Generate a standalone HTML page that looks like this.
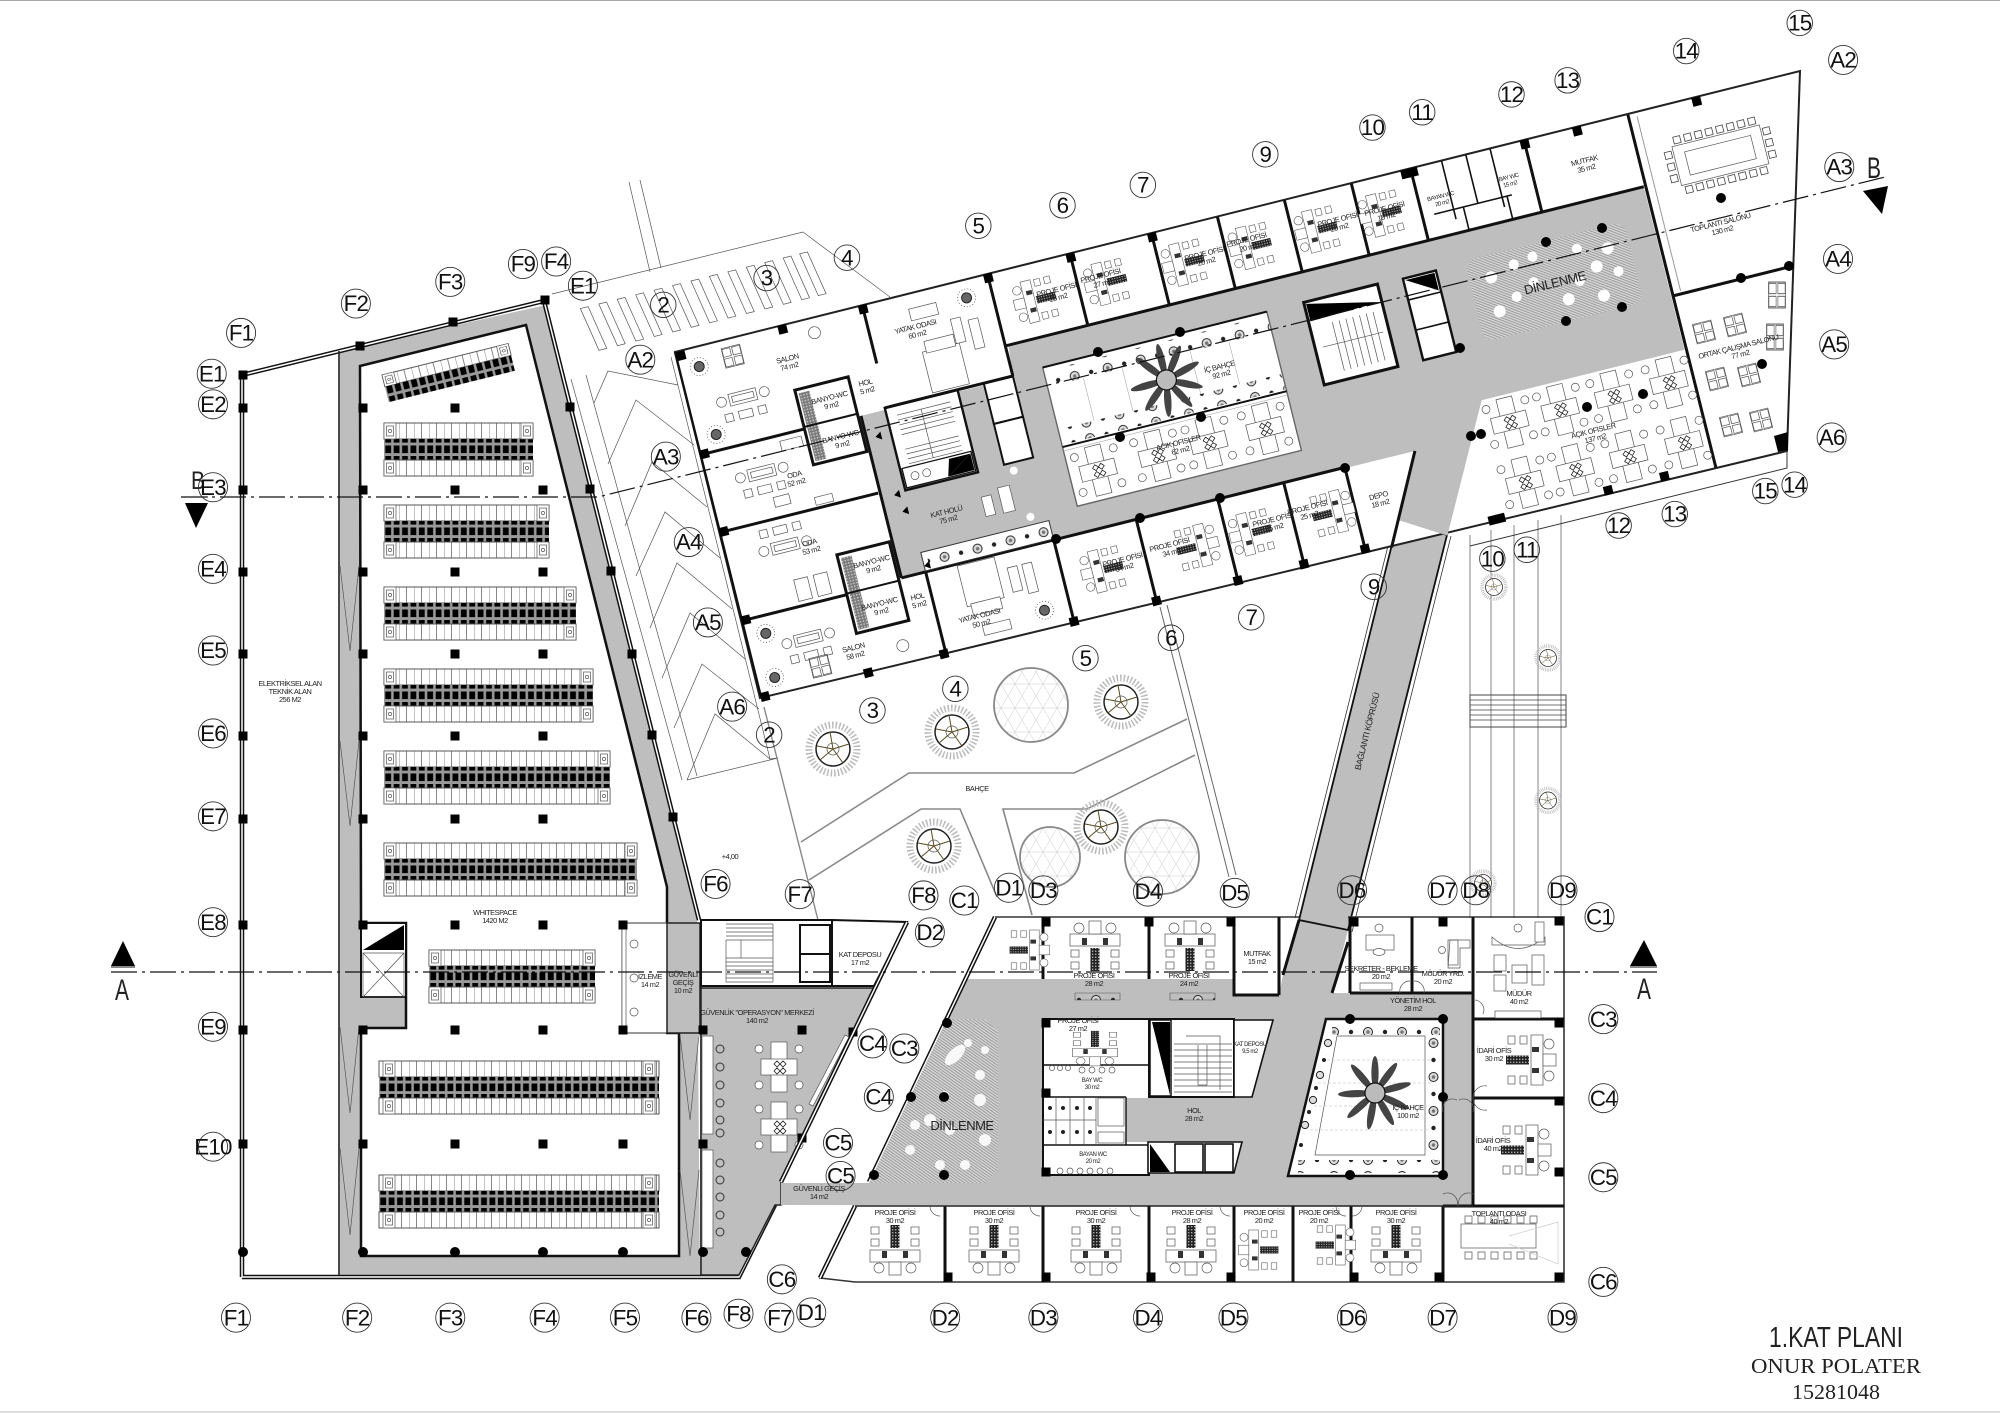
<!DOCTYPE html>
<html lang="tr"><head><meta charset="utf-8"><title>1.KAT PLANI</title>
<style>
html,body{margin:0;padding:0;background:#fff}
svg{display:block}
text{font-family:"Liberation Sans",sans-serif;fill:#222}
.t{font-size:7.4px;letter-spacing:-.45px;text-anchor:middle}
.bb circle{fill:none;stroke:#333;stroke-width:.7}
.bb text{font-size:17.5px;letter-spacing:-.6px;text-anchor:middle;fill:#111}
.w{fill:none;stroke:#111;stroke-width:3}
.f{fill:#fff;stroke:#555;stroke-width:.7}
.n{fill:none;stroke:#555;stroke-width:.7}
</style></head><body>
<svg xmlns="http://www.w3.org/2000/svg" width="2000" height="1413" viewBox="0 0 2000 1413">
<defs>
<pattern id="rk" patternUnits="userSpaceOnUse" width="8.4" height="10.5"><rect width="8.4" height="10.5" fill="#999"/><rect x="1.3" y="1.5" width="5.8" height="7.6" fill="#000"/></pattern>
<pattern id="cell" patternUnits="userSpaceOnUse" width="15" height="16"><rect width="15" height="16" fill="#fff"/><path d="M0 0V16M7.5 0V16" stroke="#555" stroke-width=".7"/></pattern>
<pattern id="hat" patternUnits="userSpaceOnUse" width="2.4" height="2.4" patternTransform="rotate(35)"><rect width="2.4" height="2.4" fill="#d6d6d6"/><rect width="2.4" height="1" fill="#9a9a9a"/></pattern>
<pattern id="pl" patternUnits="userSpaceOnUse" width="34" height="16" x="0" y="0"><circle cx="8" cy="8" r="4.5" fill="#ddd" stroke="#222" stroke-width="1"/><circle cx="8" cy="8" r="1.8" fill="#777"/><circle cx="25" cy="8" r="2.2" fill="#222"/></pattern>
<pattern id="plv" patternUnits="userSpaceOnUse" width="13" height="34" x="1427" y="1035"><circle cx="6.5" cy="8" r="4.5" fill="#ddd" stroke="#222" stroke-width="1"/><circle cx="6.5" cy="8" r="1.8" fill="#777"/><circle cx="6.5" cy="25" r="2.2" fill="#222"/></pattern>
<pattern id="tri" patternUnits="userSpaceOnUse" width="14" height="24"><path d="M0 0L14 24M14 0L0 24M0 12H14" stroke="#ccc" stroke-width=".5" fill="none"/></pattern>
<pattern id="ds" patternUnits="userSpaceOnUse" width="3" height="3"><rect width="3" height="3" fill="#222"/><rect width="1.4" height="1.4" fill="#aaa"/></pattern>
<g id="rkE"><rect width="12" height="16" class="f" stroke-width="1"/><rect x="2.5" y="3" width="7" height="10" class="f"/><circle cx="6" cy="8" r="1.6" class="n"/></g>
<g id="po"><rect x="-4.5" y="-13" width="9" height="23" fill="url(#ds)"/>
<rect x="-24" y="-11" width="8" height="7" class="f"/><rect x="-24" y="1" width="8" height="7" class="f"/><rect x="16" y="-11" width="8" height="7" class="f"/><rect x="16" y="1" width="8" height="7" class="f"/>
<rect x="-25" y="12" width="50" height="12" class="f"/><rect x="-6" y="24" width="12" height="13" class="f"/>
<circle cx="-16" cy="30" r="5" class="f"/><circle cx="16" cy="30" r="5" class="f"/><rect x="-13" y="13" width="5" height="7" fill="#333"/><rect x="8" y="13" width="5" height="7" fill="#333"/></g>
<g id="oc"><rect x="-8" y="-25" width="16" height="50" class="f"/><rect x="-18" y="-8" width="36" height="16" class="f"/>
<circle cx="-20" cy="-18" r="4" class="f" stroke-width="1.2"/><circle cx="20" cy="-18" r="4" class="f" stroke-width="1.2"/><circle cx="-20" cy="18" r="4" class="f" stroke-width="1.2"/><circle cx="20" cy="18" r="4" class="f" stroke-width="1.2"/>
<path d="M-5 -3l3-3 3 3-3 3zM1 -3l3-3 3 3-3 3zM-5 4l3-3 3 3-3 3zM1 4l3-3 3 3-3 3z" fill="#fff" stroke="#222" stroke-width=".8"/></g>
<g id="tb"><rect x="-9" y="-9" width="8" height="8" class="f"/><rect x="1" y="-9" width="8" height="8" class="f"/><rect x="-9" y="1" width="8" height="8" class="f"/><rect x="1" y="1" width="8" height="8" class="f"/><rect x="-9.5" y="-10" width="19" height="20" class="n"/></g>
<g id="sf"><rect x="-14" y="-6" width="28" height="12" class="f"/><rect x="-11" y="-3" width="22" height="6" class="n"/><rect x="-22" y="13" width="8" height="8" class="f"/><rect x="-8" y="13" width="14" height="8" class="f"/><rect x="12" y="13" width="8" height="8" class="f"/><circle cx="-22" cy="0" r="5" class="n"/><circle cx="22" cy="0" r="5" class="n"/></g>
<g id="tr"><circle r="24" fill="none" stroke="#bbb" stroke-width="7" stroke-dasharray="1.5 2"/><circle r="17" fill="#fff" stroke="#222" stroke-width="1.5"/><circle r="6" class="n"/><path d="M0 0L-3 -17M0 0L16 -5M0 0L10 14M0 0L-13 11M0 0L-16 -3" stroke="#5a4a20" stroke-width="1"/></g>
<g id="palm"><g fill="#444"><ellipse cx="0" cy="-20" rx="3.6" ry="17"/><ellipse cx="0" cy="-20" rx="3.6" ry="17" transform="rotate(36)"/><ellipse cx="0" cy="-20" rx="3.6" ry="17" transform="rotate(75)"/><ellipse cx="0" cy="-20" rx="3.6" ry="17" transform="rotate(115)"/><ellipse cx="0" cy="-20" rx="3.6" ry="17" transform="rotate(150)"/><ellipse cx="0" cy="-20" rx="3.6" ry="17" transform="rotate(190)"/><ellipse cx="0" cy="-20" rx="3.6" ry="17" transform="rotate(228)"/><ellipse cx="0" cy="-20" rx="3.6" ry="17" transform="rotate(268)"/><ellipse cx="0" cy="-20" rx="3.6" ry="17" transform="rotate(320)"/></g><circle r="10" fill="#bbb" stroke="#111" stroke-width="1.2"/></g>
<g id="sun"><circle r="9" fill="none" stroke="#555" stroke-width=".8" stroke-dasharray="1 2"/><circle r="5" fill="#666" stroke="#222"/></g>
<polygon id="slat" points="0,21 8,21 16,66 8,66" fill="#fff" stroke="#555" stroke-width=".7"/>
<rect id="sq" x="-4.5" y="-4.5" width="9" height="9" fill="#000"/>
<circle id="ci" r="5" fill="#000"/>
</defs>
<rect width="2000" height="1413" fill="#fff"/>
<rect width="2000" height="1" fill="#aaa"/><rect y="1411" width="2000" height="2" fill="#ddd"/>

<!-- parking slats and landscape -->
<g transform="translate(552 294) rotate(-14)"><use href="#slat" x="24"/><use href="#slat" x="43"/><use href="#slat" x="62"/><use href="#slat" x="81"/><use href="#slat" x="100"/><use href="#slat" x="119"/><use href="#slat" x="138"/><use href="#slat" x="157"/><use href="#slat" x="176"/><use href="#slat" x="195"/><use href="#slat" x="214"/><use href="#slat" x="233"/><use href="#slat" x="250"/></g>
<g class="n"><path d="M552 294L803 232L890 297M629 182L650 272M640 180L661 268M571 379L682 780M586 375L697 776M671 357L770 759"/>
<path d="M594 403L608 371L678 385M608 464L636 400L694 445M625 526L652 462L707 507M636 576L665 512L720 558M650 628L677 563L732 609M662 678L690 613L745 659M674 728L702 664L759 709M687 780L715 714L770 759L778 758L687 780"/></g>
<g fill="none" stroke="#888" stroke-width="1.6"><path d="M801 842L909 773H1074L1187 719M809 880L921 809H960L997 897M1195 755L1087 809H1003L1032 915"/><path d="M764 707L818 920" stroke-width="1.4"/></g>
<path d="M1160 607L1229 877M1167 605L1236 875" stroke="#666" stroke-width="1" fill="none"/>
<circle cx="1031" cy="705" r="37" fill="url(#tri)" stroke="#888" stroke-width="1.8"/><circle cx="1050" cy="857" r="30" fill="url(#tri)" stroke="#888" stroke-width="1.8"/><circle cx="1162" cy="857" r="37" fill="url(#tri)" stroke="#888" stroke-width="1.8"/>
<use href="#tr" x="833" y="749"/><use href="#tr" x="952" y="732"/><use href="#tr" x="1121" y="702"/><use href="#tr" x="1101" y="827"/><use href="#tr" x="934" y="846"/>
<path d="M1470 535V918M1491 530V918M1514 525V918M1538 520V918M1561 515V918" stroke="#666" stroke-width=".8" fill="none"/>
<rect x="1470" y="695" width="96" height="32" fill="none" stroke="#444"/><path d="M1470 700H1566M1470 705H1566M1470 710H1566M1470 715H1566M1470 720H1566" stroke="#444" stroke-width=".7"/>
<use href="#tr" x="1494" y="587" transform="translate(747 293.5) scale(.5)"/><use href="#tr" x="1548" y="658" transform="translate(774 329) scale(.5)"/><use href="#tr" x="1548" y="801" transform="translate(774 400) scale(.5)"/><use href="#tr" x="1483" y="883" transform="translate(741.5 441.5) scale(.5)"/>

<!-- data hall -->
<polygon points="338,351 359,347 546,305 697,920 700,1275 338,1275" fill="#bebebe"/>
<polygon points="360,366 526,325 667,887 667,1033 679,1033 679,1256 361,1256 361,1028 406,1028 406,923 361,923" fill="#fff" stroke="#111" stroke-width="2.5"/>
<path d="M242 1277V375L544 301L699 920M242 1277H739L775 1205" fill="none" stroke="#111" stroke-width="4.5"/>
<path d="M242 1277V375L544 301L699 920M242 1277H739L775 1205" fill="none" stroke="#fff" stroke-width="1.5"/>
<path d="M339 351V1275M701 920V1275" stroke="#222" stroke-width="1.5"/>
<path d="M340 566L350 651L359 566M340 741L350 826L359 741M340 1027L350 1113L359 1027M340 1148L350 1235L359 1148M680 1035L690 1120L699 1035M680 1170L690 1256L699 1170" class="n"/>
<rect x="361" y="923" width="45" height="74" fill="#fff" stroke="#111" stroke-width="2"/><polygon points="363,950 404,925 404,950" fill="#000"/><path d="M363 953H404V997H363ZM363 953L404 997M404 953L363 997" class="n"/>
<rect x="622" y="923" width="45" height="110" fill="#fff" stroke="#333" stroke-width="1"/><rect x="622" y="925" width="4" height="106" class="f"/><circle cx="634" cy="944" r="4" class="f"/><circle cx="634" cy="978" r="4" class="f"/><circle cx="634" cy="1012" r="4" class="f"/>
<rect x="667" y="923" width="33" height="110" fill="#bebebe" stroke="#222" stroke-width="1.5"/>

<g transform="translate(382 375) rotate(-14)"><rect width="130" height="12" fill="url(#cell)" stroke="#555"/><rect y="12" width="130" height="16" fill="url(#rk)"/><use href="#rkE" transform="scale(1 .75)"/><use href="#rkE" x="118" transform="scale(1 .75)"/></g>
<g transform="translate(384 423)"><rect width="149" height="16" fill="url(#cell)" stroke="#555"/><rect y="16" width="149" height="21" fill="url(#rk)"/><rect y="37" width="149" height="16" fill="url(#cell)" stroke="#555"/><use href="#rkE"/><use href="#rkE" y="37"/><use href="#rkE" x="137"/><use href="#rkE" x="137" y="37"/></g>
<g transform="translate(384 505)"><rect width="165" height="16" fill="url(#cell)" stroke="#555"/><rect y="16" width="165" height="21" fill="url(#rk)"/><rect y="37" width="165" height="16" fill="url(#cell)" stroke="#555"/><use href="#rkE"/><use href="#rkE" y="37"/><use href="#rkE" x="153"/><use href="#rkE" x="153" y="37"/></g>
<g transform="translate(384 587)"><rect width="192" height="16" fill="url(#cell)" stroke="#555"/><rect y="16" width="192" height="21" fill="url(#rk)"/><rect y="37" width="192" height="16" fill="url(#cell)" stroke="#555"/><use href="#rkE"/><use href="#rkE" y="37"/><use href="#rkE" x="180"/><use href="#rkE" x="180" y="37"/></g>
<g transform="translate(384 669)"><rect width="209" height="16" fill="url(#cell)" stroke="#555"/><rect y="16" width="209" height="21" fill="url(#rk)"/><rect y="37" width="209" height="16" fill="url(#cell)" stroke="#555"/><use href="#rkE"/><use href="#rkE" y="37"/><use href="#rkE" x="197"/><use href="#rkE" x="197" y="37"/></g>
<g transform="translate(384 751)"><rect width="226" height="16" fill="url(#cell)" stroke="#555"/><rect y="16" width="226" height="21" fill="url(#rk)"/><rect y="37" width="226" height="16" fill="url(#cell)" stroke="#555"/><use href="#rkE"/><use href="#rkE" y="37"/><use href="#rkE" x="214"/><use href="#rkE" x="214" y="37"/></g>
<g transform="translate(384 843)"><rect width="253" height="16" fill="url(#cell)" stroke="#555"/><rect y="16" width="253" height="21" fill="url(#rk)"/><rect y="37" width="253" height="16" fill="url(#cell)" stroke="#555"/><use href="#rkE"/><use href="#rkE" y="37"/><use href="#rkE" x="241"/><use href="#rkE" x="241" y="37"/></g>
<g transform="translate(429 950)"><rect width="166" height="16" fill="url(#cell)" stroke="#555"/><rect y="16" width="166" height="21" fill="url(#rk)"/><rect y="37" width="166" height="16" fill="url(#cell)" stroke="#555"/><use href="#rkE"/><use href="#rkE" y="37"/><use href="#rkE" x="154"/><use href="#rkE" x="154" y="37"/></g>
<g transform="translate(379 1061)"><rect width="280" height="16" fill="url(#cell)" stroke="#555"/><rect y="16" width="280" height="21" fill="url(#rk)"/><rect y="37" width="280" height="16" fill="url(#cell)" stroke="#555"/><use href="#rkE" x="4"/><use href="#rkE" x="4" y="37"/><use href="#rkE" x="264"/><use href="#rkE" x="264" y="37"/></g>
<g transform="translate(379 1175)"><rect width="280" height="16" fill="url(#cell)" stroke="#555"/><rect y="16" width="280" height="21" fill="url(#rk)"/><rect y="37" width="280" height="16" fill="url(#cell)" stroke="#555"/><use href="#rkE" x="4"/><use href="#rkE" x="4" y="37"/><use href="#rkE" x="264"/><use href="#rkE" x="264" y="37"/></g>
<!-- data hall columns -->
<g><use href="#sq" x="243" y="375"/><use href="#sq" x="360" y="346"/><use href="#sq" x="453" y="322"/><use href="#sq" x="545" y="300"/>
<use href="#sq" x="243" y="408"/><use href="#sq" x="243" y="490"/><use href="#sq" x="243" y="572"/><use href="#sq" x="243" y="654"/><use href="#sq" x="243" y="736"/><use href="#sq" x="243" y="819"/><use href="#sq" x="243" y="925"/><use href="#sq" x="243" y="1030"/><use href="#sq" x="243" y="1144"/><use href="#ci" x="243" y="1252"/>
<use href="#sq" x="363" y="408"/><use href="#sq" x="363" y="490"/><use href="#sq" x="363" y="572"/><use href="#sq" x="363" y="654"/><use href="#sq" x="363" y="736"/><use href="#sq" x="363" y="819"/><use href="#sq" x="363" y="925"/><use href="#sq" x="363" y="1030"/><use href="#sq" x="363" y="1144"/><use href="#ci" x="363" y="1252"/>
<use href="#sq" x="455" y="408"/><use href="#sq" x="455" y="490"/><use href="#sq" x="455" y="572"/><use href="#sq" x="455" y="654"/><use href="#sq" x="455" y="736"/><use href="#sq" x="455" y="819"/><use href="#sq" x="455" y="925"/><use href="#sq" x="455" y="1030"/><use href="#sq" x="455" y="1144"/><use href="#ci" x="455" y="1252"/>
<use href="#sq" x="543" y="490"/><use href="#sq" x="543" y="572"/><use href="#sq" x="543" y="654"/><use href="#sq" x="543" y="736"/><use href="#sq" x="543" y="819"/><use href="#sq" x="543" y="925"/><use href="#sq" x="543" y="1030"/><use href="#sq" x="543" y="1144"/><use href="#ci" x="543" y="1252"/>
<use href="#sq" x="623" y="925"/><use href="#sq" x="623" y="1030"/><use href="#sq" x="623" y="1144"/><use href="#ci" x="623" y="1252"/>
<use href="#sq" x="570" y="407"/><use href="#sq" x="590" y="489"/><use href="#sq" x="611" y="571"/><use href="#sq" x="632" y="654"/><use href="#sq" x="652" y="735"/><use href="#sq" x="673" y="817"/></g>

<!-- security centre + stair block -->
<polygon points="701,988 875,988 781,1182 781,1205 775,1205 739,1275 701,1275" fill="#bebebe" stroke="#222" stroke-width="1.5"/>
<rect x="701" y="920" width="131" height="66" fill="#fff" stroke="#111" stroke-width="2"/>
<path d="M726 924H773M726 928H773M726 932H773M726 936H773M726 940H773M726 958H773M726 962H773M726 966H773M726 970H773M726 974H773M726 978H773M726 982H773M741 940V958M726 940V982M773 924V982" class="n"/>
<rect x="800" y="925" width="30" height="29" fill="#fff" stroke="#111" stroke-width="2"/><rect x="800" y="954" width="30" height="28" fill="#fff" stroke="#111" stroke-width="2"/>
<polygon points="832,920 907,922 874,986 832,986" fill="#fff" stroke="#111" stroke-width="2"/>
<g fill="#fff" stroke="#555" stroke-width=".7"><rect x="702" y="1036" width="11" height="98"/><rect x="702" y="1150" width="11" height="98"/><g fill="none" stroke="#333" stroke-width="1"><circle cx="720" cy="1049" r="4"/><circle cx="720" cy="1067" r="4"/><circle cx="720" cy="1085" r="4"/><circle cx="720" cy="1103" r="4"/><circle cx="720" cy="1120" r="4"/><circle cx="720" cy="1133" r="4"/><circle cx="720" cy="1163" r="4"/><circle cx="720" cy="1180" r="4"/><circle cx="720" cy="1197" r="4"/><circle cx="720" cy="1215" r="4"/><circle cx="720" cy="1232" r="4"/></g></g>
<use href="#oc" x="779" y="1067"/><use href="#oc" x="779" y="1127"/>
<polygon points="845,1035 849,1037 813,1106 809,1104" fill="#fff" stroke="#555" stroke-width=".7"/>
<use href="#sq" x="703" y="1030"/><use href="#sq" x="802" y="1030"/><use href="#sq" x="703" y="1144"/><use href="#ci" x="703" y="1252"/><use href="#ci" x="746" y="1252"/><use href="#sq" x="853" y="1032"/><use href="#sq" x="802" y="1138"/>

<!-- main grey of right lower wing -->
<polygon points="966,979 1234,979 1234,995 1279,995 1283,975 1299,920 1348,930 1332,993 1473,994 1473,1206 781,1205 781,1183 869,1183" fill="#bebebe"/>
<polygon points="1398,520 1447,535 1348,930 1299,920" fill="#bebebe" stroke="#111" stroke-width="1.8"/>
<path d="M1394 522L1295 918M1451 536L1352 932" stroke="#333" stroke-width=".8"/>
<!-- lower wing outlines -->
<path d="M995 917H1299M1348 917H1564V1282H855L820 1278L855 1206" fill="none" stroke="#333" stroke-width="1.6"/>
<path d="M907 922L781 1182M995 917L869 1182M855 1206L820 1278" stroke="#111" stroke-width="4.5" fill="none"/>
<path d="M907 922L781 1182M995 917L869 1182M855 1206L820 1278" stroke="#fff" stroke-width="1.5" fill="none"/>
<polygon points="947,1019 985,1019 998,1032 998,1170 985,1183 869,1183" fill="url(#hat)"/>
<g fill="#fff" opacity=".9"><ellipse cx="955" cy="1055" rx="13" ry="6" transform="rotate(-45 955 1055)"/><circle cx="968" cy="1043" r="4"/><circle cx="985" cy="1050" r="4"/><circle cx="930" cy="1120" r="6"/><circle cx="950" cy="1130" r="5"/><circle cx="980" cy="1100" r="6"/><circle cx="985" cy="1140" r="6"/><circle cx="910" cy="1150" r="5"/><circle cx="965" cy="1165" r="5"/><circle cx="940" cy="1165" r="5"/><circle cx="915" cy="1125" r="5"/><circle cx="980" cy="1075" r="5"/><circle cx="945" cy="1095" r="4"/></g>
<!-- core -->
<rect x="1043" y="1019" width="106" height="156" fill="#fff" stroke="#111" stroke-width="2"/>
<rect x="1126" y="1098" width="24" height="44" fill="#bebebe"/>
<path d="M1043 1065H1149M1043 1097H1126M1043 1145H1149M1126 1097V1145" stroke="#111" stroke-width="1.4" fill="none"/>
<path d="M1056 1097V1120M1070 1097V1120M1084 1097V1120M1096 1097V1120M1043 1120H1096M1056 1120V1145M1070 1120V1145M1084 1120V1145M1096 1120V1145" class="n"/>
<g fill="#222"><circle cx="1050" cy="1108" r="2"/><circle cx="1063" cy="1108" r="2"/><circle cx="1077" cy="1108" r="2"/><circle cx="1090" cy="1108" r="2"/><circle cx="1050" cy="1132" r="2"/><circle cx="1063" cy="1132" r="2"/><circle cx="1077" cy="1132" r="2"/><circle cx="1090" cy="1132" r="2"/></g>
<rect x="1098" y="1098" width="26" height="28" class="f"/><rect x="1098" y="1132" width="26" height="11" class="f"/>
<g class="n"><circle cx="1052" cy="1068" r="2.6"/><circle cx="1060" cy="1068" r="2.6"/><circle cx="1068" cy="1068" r="2.6"/><circle cx="1082" cy="1070" r="3"/><circle cx="1092" cy="1070" r="3"/><circle cx="1102" cy="1070" r="3"/><circle cx="1112" cy="1070" r="3"/><circle cx="1060" cy="1171" r="3"/><circle cx="1070" cy="1171" r="3"/><circle cx="1080" cy="1171" r="3"/><circle cx="1090" cy="1171" r="3"/><circle cx="1100" cy="1171" r="3"/><circle cx="1110" cy="1171" r="3"/></g>
<rect x="1149" y="1019" width="85" height="78" fill="#fff" stroke="#111" stroke-width="2"/>
<polygon points="1152,1022 1170,1022 1170,1095" fill="#000"/><rect x="1150" y="1020" width="21" height="76" fill="none" stroke="#111" stroke-width="1.5"/>
<path d="M1174 1044H1232M1174 1050H1232M1174 1056H1232M1174 1062H1232M1174 1068H1232M1174 1074H1232M1174 1080H1232M1174 1086H1232M1174 1092H1232M1186 1036H1220V1090M1198 1045V1085H1207V1045" class="n"/>
<polygon points="1234,1020 1273,1020 1252,1097 1234,1097" fill="#fff" stroke="#111" stroke-width="1.6"/>
<polygon points="1148,1142 1242,1142 1234,1173 1148,1173" fill="#fff" stroke="#111" stroke-width="1.6"/>
<polygon points="1150,1144 1150,1172 1170,1172" fill="#000"/><rect x="1175" y="1144" width="28" height="28" fill="#fff" stroke="#111" stroke-width="1.6"/><rect x="1205" y="1144" width="28" height="28" fill="#fff" stroke="#111" stroke-width="1.6"/>
<use href="#sq" x="1046" y="1023"/><use href="#sq" x="1046" y="1093"/><use href="#sq" x="1046" y="1172"/>
<use href="#po" transform="translate(1095 1040) scale(.9 .7)"/>
<!-- lower court -->
<polygon points="1326,1019 1443,1019 1443,1176 1288,1176" fill="#fff" stroke="#111" stroke-width="2.5"/>
<rect x="1332" y="1022" width="108" height="13" fill="url(#pl)"/><rect x="1298" y="1160" width="142" height="13" fill="url(#pl)"/>
<rect x="1427" y="1035" width="13" height="125" fill="url(#plv)"/>
<polygon points="1337,1036 1425,1036 1425,1155 1315,1155" class="n"/>
<path d="M1322 1060H1430M1318 1083H1430M1314 1106H1430M1310 1130H1430" stroke="#ccc" stroke-dasharray="3 2" stroke-width=".7" fill="none"/>
<use href="#palm" x="1375" y="1093"/>
<g fill="#ddd" stroke="#222" stroke-width="1"><circle cx="1328" cy="1043" r="3.6"/><circle cx="1320" cy="1075" r="3.6"/><circle cx="1313" cy="1100" r="3.6"/><circle cx="1305" cy="1125" r="3.6"/></g><g fill="#222"><circle cx="1324" cy="1060" r="2"/><circle cx="1316" cy="1088" r="2"/><circle cx="1309" cy="1112" r="2"/><circle cx="1301" cy="1145" r="2"/></g>
<!-- lower wing walls -->
<path d="M1043 917V979M1149 917V979M1234 917V995H1279M1279 917V995M1299 920L1283 975M1350 917V993M1412 917V993M1473 917V1206M945 1206V1282M1043 1206V1282M1149 1206V1282M1234 1206V1282M1293 1206V1282M1351 1206V1282M1443 1206V1282M1443 1206H1564M1473 1019H1564M1473 1098H1564M1473 993H1350M1332 993L1348 942" class="w"/>
<path d="M855 1206H1473" stroke="#222" stroke-width="1.4"/>
<path d="M930 1206a10 10 0 0 0 10 10M1030 1206a10 10 0 0 0 10 10M1130 1206a10 10 0 0 0 10 10M1220 1206a10 10 0 0 0 10 10M1336 1206a10 10 0 0 0 10 10M1362 1206a10 10 0 0 1-10 10M1443 1194a10 10 0 0 1 14 12M1473 1194a10 10 0 0 0-14 12M1443 1112a10 10 0 0 1 14-12M1473 1112a10 10 0 0 0-14-12M1473 1000a10 10 0 0 1 10 14M1473 1098a12 12 0 0 1 14-12M1473 1098a12 12 0 0 0 14 12M1400 993a10 10 0 0 1 10-12M1424 993a10 10 0 0 0-10-12" class="n"/>
<g><use href="#sq" x="1046" y="922"/><use href="#sq" x="1149" y="922"/><use href="#sq" x="1231" y="922"/><use href="#sq" x="1354" y="922"/><use href="#sq" x="1443" y="922"/><use href="#sq" x="1559" y="921"/><use href="#sq" x="1559" y="1023"/><use href="#sq" x="1559" y="1101"/><use href="#sq" x="1559" y="1172"/><use href="#sq" x="1559" y="1277"/>
<use href="#sq" x="948" y="1277"/><use href="#sq" x="1046" y="1277"/><use href="#sq" x="1151" y="1277"/><use href="#sq" x="1231" y="1277"/><use href="#sq" x="1354" y="1277"/><use href="#sq" x="1439" y="1277"/>
<use href="#ci" x="947" y="1023"/><use href="#ci" x="911" y="1097"/><use href="#ci" x="944" y="1097"/><use href="#ci" x="874" y="1175"/><use href="#ci" x="944" y="1175"/><use href="#ci" x="1350" y="1019"/><use href="#ci" x="1443" y="1019"/><use href="#ci" x="1443" y="1097"/><use href="#ci" x="1350" y="1175"/><use href="#ci" x="1443" y="1175"/></g>
<!-- lower furniture -->
<use href="#po" transform="translate(895 1238)"/><use href="#po" transform="translate(994 1238)"/><use href="#po" transform="translate(1096 1238)"/><use href="#po" transform="translate(1191 1238)"/><use href="#po" transform="translate(1396 1238)"/>
<use href="#po" transform="translate(1268 1250) rotate(90) scale(.8)"/><use href="#po" transform="translate(1326 1245) rotate(-90) scale(.8)"/>
<use href="#po" transform="translate(1095 958) scale(1 -1)"/><use href="#po" transform="translate(1190 958) scale(1 -1)"/><use href="#po" transform="translate(1020 950) rotate(-90) scale(.8)"/>
<use href="#po" transform="translate(1519 1060) rotate(-90)"/><use href="#po" transform="translate(1514 1150) rotate(-90)"/>
<path d="M1075 993H1120V1000H1075ZM1170 993H1215V1000H1170Z" fill="url(#pl)" stroke="#555" stroke-width=".6"/>
<!-- manager rooms -->
<rect x="1366" y="935" width="28" height="15" class="f"/><circle cx="1379" cy="928" r="4" class="f"/><ellipse cx="1379" cy="952" rx="6" ry="3.5" class="f"/><rect x="1360" y="983" width="32" height="7" class="f"/>
<rect x="1448" y="940" width="10" height="25" class="f"/><path d="M1450 940h20v8h-10v20h-12z" class="n"/><circle cx="1442" cy="950" r="3.5" class="f"/>
<path d="M1492 937Q1518 960 1545 937V945H1492Z" class="f"/><rect x="1535" y="922" width="9" height="20" class="f"/><circle cx="1518" cy="928" r="4" class="f"/>
<rect x="1494" y="955" width="12" height="16" class="f"/><rect x="1494" y="975" width="12" height="16" class="f"/><rect x="1512" y="965" width="15" height="18" class="f"/><rect x="1532" y="955" width="12" height="30" class="f"/><rect x="1495" y="1011" width="46" height="7" class="f"/>
<rect x="1461" y="1224" width="75" height="24" class="f"/><path d="M1465 1216h7v7h-7zM1478 1216h7v7h-7zM1491 1216h7v7h-7zM1504 1216h7v7h-7zM1517 1216h7v7h-7zM1530 1216h7v7h-7zM1465 1252h7v7h-7zM1478 1252h7v7h-7zM1491 1252h7v7h-7zM1504 1252h7v7h-7zM1517 1252h7v7h-7zM1530 1252h7v7h-7z" class="f"/>
<path d="M1509 1236L1558 1222V1264L1509 1244" stroke="#ccc" stroke-width=".7" fill="none"/>

<!-- upper wing (rotated) -->
<polygon points="675,352 1800,71 1787,451 760,698" fill="#fff" stroke="#222" stroke-width="2"/>
<path d="M1787 451V468L1470 546" fill="none" stroke="#333" stroke-width="1"/>
<g transform="translate(675 352) rotate(-14)">
<polygon points="165,107 322,107 325,74 980,74 980,242 771,242 705,365 661,338 694,275 322,274 166,274" fill="#bebebe"/>
<rect x="353" y="104" width="231" height="143" fill="#fff" stroke="#666" stroke-width="1.4"/>
<rect x="355" y="108" width="228" height="16" fill="url(#pl)"/><rect x="355" y="168" width="228" height="16" fill="url(#pl)"/>
<path d="M353 190H584M390 124V168M430 124V168M500 124V168M540 124V168" stroke="#aaa" stroke-width=".6"/>
<path d="M353 104H584M353 186H584" stroke="#111" stroke-width="2"/>
<use href="#palm" x="470" y="146"/>
<use href="#oc" x="382" y="217"/><use href="#oc" x="443" y="217"/><use href="#oc" x="496" y="217"/><use href="#oc" x="554" y="217"/>
<!-- stairs / lifts -->
<rect x="190" y="105" width="75" height="85" fill="#fff" stroke="#111" stroke-width="2.4"/>
<path d="M200 115H255M200 120H255M200 125H255M200 130H255M200 135H255M200 150H255M200 155H255M200 160H255M200 165H255M225 115V165" class="n"/>
<rect x="192" y="168" width="71" height="20" fill="#fff" stroke="#111" stroke-width="1.3"/><polygon points="235,187 262,170 262,187" fill="#000"/><polygon points="235,187 262,170 240,170" fill="#000"/>
<circle cx="203" cy="178" r="4" class="f"/><circle cx="215" cy="178" r="4" class="f"/>
<rect x="292" y="105" width="30" height="42" fill="#fff" stroke="#111" stroke-width="2"/><rect x="292" y="147" width="30" height="42" fill="#fff" stroke="#111" stroke-width="2"/>
<rect x="622" y="104" width="76" height="85" fill="#fff" stroke="#111" stroke-width="3"/><polygon points="624,106 696,122 624,124" fill="#000"/>
<path d="M645 130V180M652 130V180M659 130V180M666 130V180M673 130V180M680 130V180M687 130V180M630 152H692" class="n"/>
<rect x="724" y="105" width="34" height="84" fill="#fff" stroke="#111" stroke-width="2.4"/><polygon points="726,107 756,107 756,125" fill="#000"/><path d="M724 127H758M724 158H758" stroke="#111" stroke-width="1.6"/>
<rect x="788" y="103" width="164" height="83" rx="12" fill="url(#hat)"/>
<g fill="#fff"><circle cx="810" cy="125" r="6"/><circle cx="835" cy="118" r="5"/><circle cx="850" cy="140" r="5"/><circle cx="810" cy="160" r="6"/><circle cx="880" cy="165" r="6"/><circle cx="915" cy="170" r="6"/><circle cx="930" cy="125" r="6"/><circle cx="915" cy="140" r="6"/><circle cx="900" cy="118" r="5"/><circle cx="855" cy="115" r="5"/><circle cx="830" cy="150" r="5"/><circle cx="895" cy="150" r="5"/><circle cx="935" cy="150" r="5"/></g>
<!-- walls -->
<path d="M193 0V60M322 0V105M407 0V74M491 0V74M559 0V74M628 0V74M697 0V74M758 0V74M875 0V74M982 0V364M322 274V358M407 274V358M491 274V358M559 274V358M622 274V358M322 74H980M165 274H622M165 107V274M322 105H190M982 187H1102M0 106H107M0 186H163M0 277H108M190 274V356M694 275L648 363" class="w"/>
<path d="M0 0V356" stroke="#111" stroke-width="2.4"/>
<path d="M107 66H162V143H107ZM108 236H162V317H108Z" fill="#fff" stroke="#111" stroke-width="3"/>
<rect x="110" y="70" width="11" height="70" fill="url(#ds)" opacity=".6"/><rect x="111" y="240" width="11" height="74" fill="url(#ds)" opacity=".6"/>
<path d="M107 104H162M108 276H162" stroke="#111" stroke-width="2"/>
<rect x="190" y="254" width="132" height="19" fill="#fff" stroke="#333"/><rect x="195" y="256" width="125" height="15" fill="url(#pl)"/>
<!-- toilets -->
<path d="M790 0V60M815 0V50M840 0V60M770 50H850M800 50V74M845 50V74" fill="none" stroke="#111" stroke-width="1.6"/>
<rect x="990" y="4" width="1" height="180" fill="#999"/>
<!-- columns -->
<g><use href="#sq" x="5" y="5"/><use href="#sq" x="110" y="4"/><use href="#sq" x="193" y="4"/><use href="#sq" x="322" y="4"/><use href="#sq" x="407" y="4"/><use href="#sq" x="491" y="4"/><use href="#sq" x="752" y="4"/><use href="#sq" x="760" y="4"/><use href="#sq" x="875" y="4"/><use href="#sq" x="929" y="4"/><use href="#sq" x="1052" y="4"/>
<use href="#sq" x="4" y="106"/><use href="#sq" x="4" y="186"/><use href="#sq" x="4" y="277"/><use href="#sq" x="4" y="356"/><use href="#sq" x="110" y="358"/><use href="#sq" x="188" y="358"/><use href="#sq" x="322" y="358"/><use href="#sq" x="407" y="358"/><use href="#sq" x="491" y="358"/><use href="#sq" x="559" y="358"/><use href="#sq" x="622" y="358"/><use href="#sq" x="753" y="361"/><use href="#sq" x="761" y="361"/><use href="#sq" x="872" y="360"/><use href="#sq" x="930" y="360"/><use href="#sq" x="1052" y="358"/></g>
<!-- offices -->
<use href="#po" transform="translate(372 37) rotate(90) scale(.85)"/><use href="#po" transform="translate(445 37) rotate(90) scale(.85)"/><use href="#po" transform="translate(525 37) rotate(90) scale(.85)"/><use href="#po" transform="translate(594 37) rotate(90) scale(.85)"/><use href="#po" transform="translate(662 37) rotate(90) scale(.85)"/><use href="#po" transform="translate(728 37) rotate(90) scale(.85)"/>
<use href="#po" transform="translate(372 315) rotate(90) scale(.85)"/><use href="#po" transform="translate(450 315) rotate(-90) scale(.85)"/><use href="#po" transform="translate(525 315) rotate(90) scale(.85)"/><use href="#po" transform="translate(590 315) rotate(-90) scale(.85)"/>
<use href="#oc" x="793" y="270"/><use href="#oc" x="845" y="270"/><use href="#oc" x="900" y="270"/><use href="#oc" x="957" y="270"/><use href="#oc" x="793" y="332"/><use href="#oc" x="845" y="332"/><use href="#oc" x="900" y="332"/><use href="#oc" x="957" y="332"/>
<!-- meeting table -->
<rect x="1017" y="42" width="90" height="40" class="f"/><rect x="1028" y="50" width="68" height="24" class="n"/>
<path d="M1020 33h7v7h-7zM1031 33h7v7h-7zM1042 33h7v7h-7zM1053 33h7v7h-7zM1064 33h7v7h-7zM1075 33h7v7h-7zM1086 33h7v7h-7zM1097 33h7v7h-7zM1020 84h7v7h-7zM1031 84h7v7h-7zM1042 84h7v7h-7zM1053 84h7v7h-7zM1064 84h7v7h-7zM1075 84h7v7h-7zM1086 84h7v7h-7zM1097 84h7v7h-7zM1008 46h7v7h-7zM1008 58h7v7h-7zM1008 70h7v7h-7zM1109 46h7v7h-7zM1109 58h7v7h-7zM1109 70h7v7h-7z" fill="#fff" stroke="#444" stroke-width=".8"/>
<!-- salons -->
<use href="#sf" transform="translate(55 60)"/><use href="#sf" transform="translate(55 138)"/><use href="#sf" transform="translate(60 215) scale(1 -1)"/><use href="#sf" transform="translate(60 310)"/>
<use href="#tb" x="55" y="18"/><use href="#tb" x="65" y="340"/>
<rect x="60" y="165" width="16" height="10" class="f"/><rect x="80" y="112" width="22" height="10" class="f"/><rect x="80" y="250" width="14" height="22" class="f"/><rect x="60" y="250" width="14" height="22" class="f"/><rect x="100" y="175" width="18" height="8" class="f"/><circle cx="140" cy="15" r="6" class="n"/><circle cx="150" cy="340" r="6" class="n"/>
<use href="#sun" x="20" y="20"/><use href="#sun" x="20" y="90"/><use href="#sun" x="20" y="295"/><use href="#sun" x="18" y="340"/><use href="#sun" x="296" y="18"/><use href="#sun" x="296" y="340"/>
<!-- beds -->
<rect x="240" y="60" width="38" height="42" class="f"/><rect x="244" y="50" width="30" height="12" class="f"/><rect x="237" y="15" width="28" height="12" class="f"/><rect x="275" y="35" width="10" height="25" class="f"/><rect x="292" y="40" width="10" height="30" class="f"/>
<rect x="222" y="276" width="38" height="42" class="f"/><rect x="226" y="316" width="30" height="12" class="f"/><rect x="232" y="340" width="28" height="10" class="f"/>
<rect x="270" y="290" width="10" height="25" class="f"/><rect x="285" y="290" width="10" height="30" class="f"/>
<!-- kat holu furniture -->
<rect x="280" y="210" width="12" height="26" fill="#fff" stroke="#555" stroke-width=".7"/><rect x="262" y="215" width="10" height="20" fill="#fff" stroke="#555" stroke-width=".7"/>
<circle cx="300" cy="197" r="4" fill="#fff"/><circle cx="305" cy="246" r="4" fill="#fff"/>
<path d="M174 131l6-4v8zM178 192l6-4v8zM182 210l6-4v8zM190 268l6-4v8z" fill="#000"/>
</g>
<!-- upper circles -->
<g><use href="#ci" x="1098" y="352"/><use href="#ci" x="1180" y="332"/><use href="#ci" x="1120" y="437"/><use href="#ci" x="1201" y="417"/><use href="#ci" x="1056" y="539"/><use href="#ci" x="1140" y="518"/><use href="#ci" x="1220" y="498"/><use href="#ci" x="1546" y="242"/><use href="#ci" x="1602" y="228"/><use href="#ci" x="1622" y="307"/><use href="#ci" x="1566" y="321"/><use href="#ci" x="1460" y="348"/><use href="#ci" x="1721" y="198"/><use href="#ci" x="1741" y="278"/><use href="#ci" x="1789" y="266"/><use href="#ci" x="1762" y="364"/><use href="#ci" x="1643" y="394"/><use href="#ci" x="1587" y="407"/><use href="#ci" x="1481" y="434"/><use href="#ci" x="1471" y="436"/><use href="#ci" x="1345" y="468"/></g>
<polygon points="1774,436 1788,432 1788,450 1778,452" fill="#000"/>
<!-- ortak -->
<use href="#tb" transform="translate(1704 332) rotate(-14)"/><use href="#tb" transform="translate(1735 325) rotate(-14)"/><use href="#tb" transform="translate(1777 295) scale(.9 1.3)"/><use href="#tb" transform="translate(1775 337) scale(.9 1.3)"/><use href="#tb" transform="translate(1717 379) rotate(-14)"/><use href="#tb" transform="translate(1749 375) rotate(-14)"/><use href="#tb" transform="translate(1731 425) rotate(-14)"/><use href="#tb" transform="translate(1761 420) rotate(-14)"/>

<!-- section lines -->
<g fill="none" stroke="#111" stroke-width="1.2" stroke-dasharray="26 5 3 5"><path d="M181 497H598L1885 177"/><path d="M111 972H1657"/></g>
<polygon points="185,503 208,503 196,528" fill="#000"/><polygon points="1863,191 1888,186 1882,214" fill="#000"/>
<polygon points="123,941 111,966 135,966" fill="#000"/><polygon points="1644,940 1630,966 1657,966" fill="#000"/>
<path d="M111 967H135M1630 967H1657M185 497H208" stroke="#111" stroke-width="1"/>
<text x="198" y="489" font-size="25" text-anchor="middle" textLength="14" lengthAdjust="spacingAndGlyphs">B</text>
<text x="1874" y="178" font-size="30" text-anchor="middle" textLength="14" lengthAdjust="spacingAndGlyphs">B</text>
<text x="122" y="1000" font-size="30" text-anchor="middle" textLength="14" lengthAdjust="spacingAndGlyphs">A</text>
<text x="1644" y="999" font-size="30" text-anchor="middle" textLength="14" lengthAdjust="spacingAndGlyphs">A</text>

<!-- labels -->
<g class="t">
<text x="290" y="686"><tspan x="290">ELEKTRİKSEL ALAN</tspan><tspan x="290" dy="8">TEKNİK ALAN</tspan><tspan x="290" dy="8">256 M2</tspan></text>
<text x="495" y="915"><tspan x="495">WHITESPACE</tspan><tspan x="495" dy="8">1420 M2</tspan></text>
<text x="650" y="979"><tspan x="650">İZLEME</tspan><tspan x="650" dy="8">14 m2</tspan></text>
<text x="683" y="977"><tspan x="683">GÜVENLİ</tspan><tspan x="683" dy="8">GEÇİŞ</tspan><tspan x="683" dy="8">10 m2</tspan></text>
<text x="757" y="1015"><tspan x="757">GÜVENLİK "OPERASYON" MERKEZİ</tspan><tspan x="757" dy="8">140 m2</tspan></text>
<text x="860" y="957"><tspan x="860">KAT DEPOSU</tspan><tspan x="860" dy="8">17 m2</tspan></text>
<text x="1094" y="978"><tspan x="1094">PROJE OFİSİ</tspan><tspan x="1094" dy="8">28 m2</tspan></text>
<text x="1189" y="978"><tspan x="1189">PROJE OFİSİ</tspan><tspan x="1189" dy="8">24 m2</tspan></text>
<text x="1257" y="956"><tspan x="1257">MUTFAK</tspan><tspan x="1257" dy="8">15 m2</tspan></text>
<text x="1381" y="971"><tspan x="1381">SEKRETER - BEKLEME</tspan><tspan x="1381" dy="8">20 m2</tspan></text>
<text x="1443" y="976"><tspan x="1443">MÜDÜR YRD.</tspan><tspan x="1443" dy="8">20 m2</tspan></text>
<text x="1519" y="996"><tspan x="1519">MÜDÜR</tspan><tspan x="1519" dy="8">40 m2</tspan></text>
<text x="1413" y="1003"><tspan x="1413">YÖNETİM HOL</tspan><tspan x="1413" dy="8">28 m2</tspan></text>
<text x="1078" y="1023"><tspan x="1078">PROJE OFİSİ</tspan><tspan x="1078" dy="8">27 m2</tspan></text>
<text x="1092" y="1082" font-size="6"><tspan x="1092">BAY WC</tspan><tspan x="1092" dy="7">30 m2</tspan></text>
<text x="1093" y="1156" font-size="6"><tspan x="1093">BAYAN WC</tspan><tspan x="1093" dy="7">20 m2</tspan></text>
<text x="1250" y="1046" font-size="6"><tspan x="1250">KAT DEPOSU</tspan><tspan x="1250" dy="7">9,5 m2</tspan></text>
<text x="1194" y="1113"><tspan x="1194">HOL</tspan><tspan x="1194" dy="8">28 m2</tspan></text>
<text x="1408" y="1110"><tspan x="1408">İÇ BAHÇE</tspan><tspan x="1408" dy="8">100 m2</tspan></text>
<text x="1494" y="1053"><tspan x="1494">İDARİ OFİS</tspan><tspan x="1494" dy="8">30 m2</tspan></text>
<text x="1493" y="1143"><tspan x="1493">İDARİ OFİS</tspan><tspan x="1493" dy="8">40 m2</tspan></text>
<text x="1499" y="1216"><tspan x="1499">TOPLANTI ODASI</tspan><tspan x="1499" dy="8">40 m2</tspan></text>
<text x="819" y="1191"><tspan x="819">GÜVENLİ GEÇİŞ</tspan><tspan x="819" dy="8">14 m2</tspan></text>
<text x="895" y="1215"><tspan x="895">PROJE OFİSİ</tspan><tspan x="895" dy="8">30 m2</tspan></text>
<text x="994" y="1215"><tspan x="994">PROJE OFİSİ</tspan><tspan x="994" dy="8">30 m2</tspan></text>
<text x="1096" y="1215"><tspan x="1096">PROJE OFİSİ</tspan><tspan x="1096" dy="8">30 m2</tspan></text>
<text x="1192" y="1215"><tspan x="1192">PROJE OFİSİ</tspan><tspan x="1192" dy="8">28 m2</tspan></text>
<text x="1264" y="1215"><tspan x="1264">PROJE OFİSİ</tspan><tspan x="1264" dy="8">20 m2</tspan></text>
<text x="1319" y="1215"><tspan x="1319">PROJE OFİSİ</tspan><tspan x="1319" dy="8">20 m2</tspan></text>
<text x="1396" y="1215"><tspan x="1396">PROJE OFİSİ</tspan><tspan x="1396" dy="8">30 m2</tspan></text>
<text x="977" y="791">BAHÇE</text><text x="730" y="859">+4,00</text>
<text transform="translate(1370 732) rotate(-76)" font-size="8.5">BAĞLANTI KÖPRÜSÜ</text>
<text transform="translate(788 361) rotate(-14)"><tspan x="0">SALON</tspan><tspan x="0" dy="8">74 m2</tspan></text>
<text transform="translate(916 329) rotate(-14)"><tspan x="0">YATAK ODASI</tspan><tspan x="0" dy="8">60 m2</tspan></text>
<text transform="translate(866 385) rotate(-14)"><tspan x="0">HOL</tspan><tspan x="0" dy="8">5 m2</tspan></text>
<text transform="translate(830 400) rotate(-14)"><tspan x="0">BANYO-WC</tspan><tspan x="0" dy="8">9 m2</tspan></text>
<text transform="translate(841 439) rotate(-14)"><tspan x="0">BANYO-WC</tspan><tspan x="0" dy="8">9 m2</tspan></text>
<text transform="translate(795 477) rotate(-14)"><tspan x="0">ODA</tspan><tspan x="0" dy="8">52 m2</tspan></text>
<text transform="translate(810 545) rotate(-14)"><tspan x="0">ODA</tspan><tspan x="0" dy="8">53 m2</tspan></text>
<text transform="translate(872 564) rotate(-14)"><tspan x="0">BANYO-WC</tspan><tspan x="0" dy="8">9 m2</tspan></text>
<text transform="translate(880 606) rotate(-14)"><tspan x="0">BANYO-WC</tspan><tspan x="0" dy="8">9 m2</tspan></text>
<text transform="translate(918 599) rotate(-14)"><tspan x="0">HOL</tspan><tspan x="0" dy="8">5 m2</tspan></text>
<text transform="translate(980 618) rotate(-14)"><tspan x="0">YATAK ODASI</tspan><tspan x="0" dy="8">50 m2</tspan></text>
<text transform="translate(854 650) rotate(-14)"><tspan x="0">SALON</tspan><tspan x="0" dy="8">58 m2</tspan></text>
<text transform="translate(947 514) rotate(-14)"><tspan x="0">KAT HOLÜ</tspan><tspan x="0" dy="8">75 m2</tspan></text>
<text transform="translate(1057 292) rotate(-14)"><tspan x="0">PROJE OFİSİ</tspan><tspan x="0" dy="8">28 m2</tspan></text>
<text transform="translate(1101 278) rotate(-14)"><tspan x="0">PROJE OFİSİ</tspan><tspan x="0" dy="8">27 m2</tspan></text>
<text transform="translate(1205 256) rotate(-14)"><tspan x="0">PROJE OFİSİ</tspan><tspan x="0" dy="8">20 m2</tspan></text>
<text transform="translate(1247 242) rotate(-14)"><tspan x="0">PROJE OFİSİ</tspan><tspan x="0" dy="8">20 m2</tspan></text>
<text transform="translate(1338 222) rotate(-14)"><tspan x="0">PROJE OFİSİ</tspan><tspan x="0" dy="8">20 m2</tspan></text>
<text transform="translate(1385 211) rotate(-14)"><tspan x="0">PROJE OFİSİ</tspan><tspan x="0" dy="8">18 m2</tspan></text>
<text transform="translate(1179 445) rotate(-14)"><tspan x="0">AÇIK OFİSLER</tspan><tspan x="0" dy="8">62 m2</tspan></text>
<text transform="translate(1220 369) rotate(-14)"><tspan x="0">İÇ BAHÇE</tspan><tspan x="0" dy="8">92 m2</tspan></text>
<text transform="translate(1123 562) rotate(-14)"><tspan x="0">PROJE OFİSİ</tspan><tspan x="0" dy="8">34 m2</tspan></text>
<text transform="translate(1170 547) rotate(-14)"><tspan x="0">PROJE OFİSİ</tspan><tspan x="0" dy="8">34 m2</tspan></text>
<text transform="translate(1273 522) rotate(-14)"><tspan x="0">PROJE OFİSİ</tspan><tspan x="0" dy="8">25 m2</tspan></text>
<text transform="translate(1308 510) rotate(-14)"><tspan x="0">PROJE OFİSİ</tspan><tspan x="0" dy="8">25 m2</tspan></text>
<text transform="translate(1585 163) rotate(-14)"><tspan x="0">MUTFAK</tspan><tspan x="0" dy="8">35 m2</tspan></text>
<text transform="translate(1509 179) rotate(-14)" font-size="6"><tspan x="0">BAY WC</tspan><tspan x="0" dy="7">15 m2</tspan></text>
<text transform="translate(1441 198) rotate(-14)" font-size="6"><tspan x="0">BAYAN WC</tspan><tspan x="0" dy="7">20 m2</tspan></text>
<text transform="translate(1721 225) rotate(-14)"><tspan x="0">TOPLANTI SALONU</tspan><tspan x="0" dy="8">130 m2</tspan></text>
<text transform="translate(1739 349) rotate(-14)"><tspan x="0">ORTAK ÇALIŞMA SALONU</tspan><tspan x="0" dy="8">77 m2</tspan></text>
<text transform="translate(1594 433) rotate(-14)"><tspan x="0">AÇIK OFİSLER</tspan><tspan x="0" dy="8">137 m2</tspan></text>
<text transform="translate(1379 498) rotate(-14)"><tspan x="0">DEPO</tspan><tspan x="0" dy="8">18 m2</tspan></text>
</g>
<text x="962" y="1130" font-size="13" letter-spacing="-.5" text-anchor="middle">DİNLENME</text>
<text transform="translate(1556 287) rotate(-14)" font-size="13" letter-spacing="-.5" text-anchor="middle">DİNLENME</text>

<!-- grid bubbles -->
<g class="bb" transform="scale(1.27551)">
<circle cx="189" cy="261" r="11.4"/><text x="189" y="267">F1</text><circle cx="279" cy="238" r="11.4"/><text x="279" y="244">F2</text><circle cx="353" cy="221" r="11.4"/><text x="353" y="227">F3</text><circle cx="410" cy="207" r="11.4"/><text x="410" y="213">F9</text><circle cx="436" cy="205" r="11.4"/><text x="436" y="211">F4</text><circle cx="457" cy="224" r="11.4"/><text x="457" y="230">E1</text>
<circle cx="520" cy="239" r="10"/><text x="520" y="245">2</text><circle cx="601" cy="218" r="10"/><text x="601" y="224">3</text><circle cx="664" cy="202" r="10"/><text x="664" y="208">4</text><circle cx="767" cy="177" r="10"/><text x="767" y="183">5</text><circle cx="833" cy="161" r="10"/><text x="833" y="167">6</text><circle cx="896" cy="145" r="10"/><text x="896" y="151">7</text><circle cx="992" cy="121" r="10"/><text x="992" y="127">9</text><circle cx="1076" cy="100" r="10"/><text x="1076" y="106">10</text><circle cx="1115" cy="88" r="10"/><text x="1115" y="94">11</text><circle cx="1185" cy="74" r="10"/><text x="1185" y="80">12</text><circle cx="1229" cy="63" r="10"/><text x="1229" y="69">13</text><circle cx="1322" cy="40" r="10"/><text x="1322" y="46">14</text><circle cx="1411" cy="18" r="10"/><text x="1411" y="24">15</text>
<circle cx="1445" cy="47" r="11.4"/><text x="1445" y="53">A2</text><circle cx="1442" cy="131" r="11.4"/><text x="1442" y="137">A3</text><circle cx="1441" cy="203" r="11.4"/><text x="1441" y="209">A4</text><circle cx="1438" cy="270" r="11.4"/><text x="1438" y="276">A5</text><circle cx="1436" cy="343" r="11.4"/><text x="1436" y="349">A6</text>
<circle cx="1384" cy="385" r="10"/><text x="1384" y="391">15</text><circle cx="1407" cy="380" r="10"/><text x="1407" y="386">14</text><circle cx="1313" cy="403" r="10"/><text x="1313" y="409">13</text><circle cx="1269" cy="412" r="10"/><text x="1269" y="418">12</text><circle cx="1197" cy="431" r="10"/><text x="1197" y="437">11</text><circle cx="1170" cy="438" r="10"/><text x="1170" y="444">10</text><circle cx="1077" cy="460" r="10"/><text x="1077" y="466">9</text><circle cx="981" cy="484" r="10"/><text x="981" y="490">7</text><circle cx="918" cy="500" r="10"/><text x="918" y="506">6</text><circle cx="851" cy="516" r="10"/><text x="851" y="522">5</text><circle cx="749" cy="540" r="10"/><text x="749" y="546">4</text><circle cx="684" cy="557" r="10"/><text x="684" y="563">3</text><circle cx="603" cy="576" r="10"/><text x="603" y="582">2</text>
<circle cx="502" cy="282" r="11.4"/><text x="502" y="288">A2</text><circle cx="522" cy="358" r="11.4"/><text x="522" y="364">A3</text><circle cx="540" cy="425" r="11.4"/><text x="540" y="431">A4</text><circle cx="555" cy="488" r="11.4"/><text x="555" y="494">A5</text><circle cx="574" cy="554" r="11.4"/><text x="574" y="560">A6</text>
<circle cx="166" cy="293" r="11.4"/><text x="166" y="299">E1</text><circle cx="167" cy="317" r="11.4"/><text x="167" y="323">E2</text><circle cx="167" cy="382" r="11.4"/><text x="167" y="388">E3</text><circle cx="167" cy="446" r="11.4"/><text x="167" y="452">E4</text><circle cx="167" cy="510" r="11.4"/><text x="167" y="516">E5</text><circle cx="167" cy="575" r="11.4"/><text x="167" y="581">E6</text><circle cx="167" cy="640" r="11.4"/><text x="167" y="646">E7</text><circle cx="167" cy="723" r="11.4"/><text x="167" y="729">E8</text><circle cx="167" cy="805" r="11.4"/><text x="167" y="811">E9</text><circle cx="167" cy="899" r="11.4"/><text x="167" y="905">E10</text>
<circle cx="561" cy="693" r="11.4"/><text x="561" y="699">F6</text><circle cx="627" cy="701" r="11.4"/><text x="627" y="707">F7</text><circle cx="724" cy="702" r="11.4"/><text x="724" y="708">F8</text><circle cx="756" cy="706" r="11.4"/><text x="756" y="712">C1</text><circle cx="791" cy="696" r="11.4"/><text x="791" y="702">D1</text><circle cx="729" cy="731" r="11.4"/><text x="729" y="737">D2</text><circle cx="818" cy="698" r="11.4"/><text x="818" y="704">D3</text><circle cx="900" cy="699" r="11.4"/><text x="900" y="705">D4</text><circle cx="968" cy="700" r="11.4"/><text x="968" y="706">D5</text><circle cx="1060" cy="698" r="11.4"/><text x="1060" y="704">D6</text><circle cx="1131" cy="698" r="11.4"/><text x="1131" y="704">D7</text><circle cx="1157" cy="698" r="11.4"/><text x="1157" y="704">D8</text><circle cx="1225" cy="698" r="11.4"/><text x="1225" y="704">D9</text>
<circle cx="1254" cy="719" r="11.4"/><text x="1254" y="725">C1</text><circle cx="1257" cy="799" r="11.4"/><text x="1257" y="805">C3</text><circle cx="1257" cy="861" r="11.4"/><text x="1257" y="867">C4</text><circle cx="1257" cy="923" r="11.4"/><text x="1257" y="929">C5</text><circle cx="1257" cy="1005" r="11.4"/><text x="1257" y="1011">C6</text>
<circle cx="684" cy="818" r="11.4"/><text x="684" y="824">C4</text><circle cx="709" cy="822" r="11.4"/><text x="709" y="828">C3</text><circle cx="689" cy="860" r="11.4"/><text x="689" y="866">C4</text><circle cx="657" cy="896" r="11.4"/><text x="657" y="902">C5</text><circle cx="659" cy="922" r="11.4"/><text x="659" y="928">C5</text><circle cx="613" cy="1003" r="11.4"/><text x="613" y="1009">C6</text>
<circle cx="185" cy="1033" r="11.4"/><text x="185" y="1039">F1</text><circle cx="280" cy="1033" r="11.4"/><text x="280" y="1039">F2</text><circle cx="353" cy="1033" r="11.4"/><text x="353" y="1039">F3</text><circle cx="427" cy="1033" r="11.4"/><text x="427" y="1039">F4</text><circle cx="490" cy="1033" r="11.4"/><text x="490" y="1039">F5</text><circle cx="546" cy="1033" r="11.4"/><text x="546" y="1039">F6</text><circle cx="579" cy="1030" r="11.4"/><text x="579" y="1036">F8</text><circle cx="611" cy="1033" r="11.4"/><text x="611" y="1039">F7</text><circle cx="636" cy="1029" r="11.4"/><text x="636" y="1035">D1</text><circle cx="741" cy="1033" r="11.4"/><text x="741" y="1039">D2</text><circle cx="818" cy="1033" r="11.4"/><text x="818" y="1039">D3</text><circle cx="900" cy="1033" r="11.4"/><text x="900" y="1039">D4</text><circle cx="967" cy="1033" r="11.4"/><text x="967" y="1039">D5</text><circle cx="1060" cy="1033" r="11.4"/><text x="1060" y="1039">D6</text><circle cx="1131" cy="1033" r="11.4"/><text x="1131" y="1039">D7</text><circle cx="1225" cy="1033" r="11.4"/><text x="1225" y="1039">D9</text>
</g>

<!-- title -->
<text x="1836" y="1347" font-size="29" text-anchor="middle" textLength="134" lengthAdjust="spacingAndGlyphs" fill="#111">1.KAT PLANI</text>
<text x="1836" y="1373" font-size="21" text-anchor="middle" textLength="170" lengthAdjust="spacingAndGlyphs" style="font-family:'Liberation Serif',serif" fill="#111">ONUR POLATER</text>
<text x="1836" y="1399" font-size="21" text-anchor="middle" textLength="88" lengthAdjust="spacingAndGlyphs" style="font-family:'Liberation Serif',serif" fill="#111">15281048</text>
</svg>
</body></html>
